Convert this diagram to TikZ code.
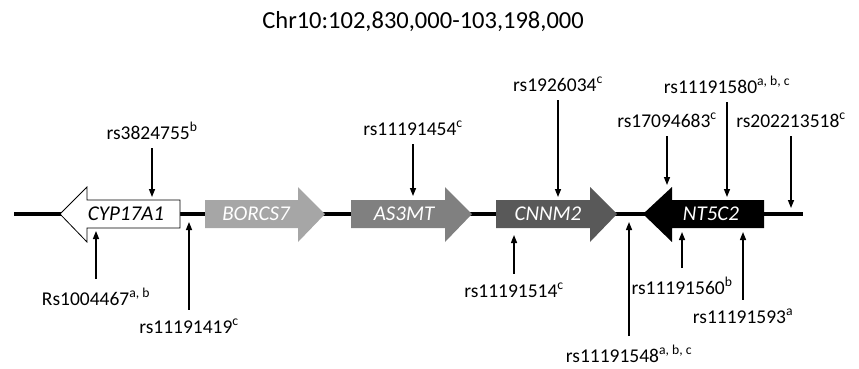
\documentclass[tikz,border=0pt]{standalone}
\usepackage{fontspec}
\setmainfont{Carlito}
\usetikzlibrary{arrows.meta, positioning}
\usepackage{xcolor}
\definecolor{borcsgray}{HTML}{A6A6A6}
\definecolor{asgray}{HTML}{808080}
\definecolor{cnnmgray}{HTML}{595959}

\begin{document}
\begin{tikzpicture}[
    x=1pt, y=-1pt,
    snp/.style={-{Triangle[length=8pt, width=6pt]}, line width=1.4pt},
    snp label/.style={font=\fontsize{19.5}{22}\selectfont, anchor=base, inner sep=0pt, outer ysep=9pt},
    gene label/.style={font=\fontsize{21}{24}\selectfont\itshape, text=white}
]
    \path[use as bounding box] (0,0) rectangle (859,368);

    % Title
    \node[font=\fontsize{24.5}{28}\selectfont, anchor=base] (title) at (423,28) {Chr10:102,830,000-103,198,000};

    % Chromosome
    \coordinate (chrL) at (14,214);
    \coordinate (chrR) at (803,214);
    \draw[line width=4pt] (chrL) -- (chrR);

    % Genes
    \draw[line width=0.8pt, fill=white] (180,200) -- (87,200) -- (87,187) -- (60,214) -- (87,242) -- (87,228) -- (180,228) -- cycle;
    \fill[borcsgray] (205,200) -- (298,200) -- (298,187) -- (325,214) -- (298,242) -- (298,228) -- (205,228) -- cycle;
    \fill[asgray] (351,200) -- (445,200) -- (445,187) -- (472,214) -- (445,242) -- (445,228) -- (351,228) -- cycle;
    \fill[cnnmgray] (496,200) -- (590,200) -- (590,187) -- (617,214) -- (590,242) -- (590,228) -- (496,228) -- cycle;
    \fill[black] (764,200) -- (672,200) -- (672,187) -- (643,214) -- (672,242) -- (672,228) -- (764,228) -- cycle;

    \node[gene label, text=black] (cyp) at (126,214) {CYP17A1};
    \node[gene label] (borcs) at (256,214) {BORCS7};
    \node[gene label] (as3mt) at (404,214) {AS3MT};
    \node[gene label] (cnnm) at (548,214) {CNNM2};
    \node[gene label] (nt5c) at (711,214) {NT5C2};

    % SNP positions
    \coordinate (t3824755) at (152,197);
    \coordinate (t11191454) at (413,196);
    \coordinate (t1926034) at (558,197);
    \coordinate (t17094683) at (667,185);
    \coordinate (t11191580) at (727,197);
    \coordinate (t202213518) at (791,208);
    \coordinate (t1004467) at (96,231);
    \coordinate (t11191419) at (189,222);
    \coordinate (t11191514) at (514,235);
    \coordinate (t11191548) at (629,222);
    \coordinate (t11191560) at (682,232);
    \coordinate (t11191593) at (743,232);

    % SNP labels
    \node[snp label] (l3824755) at (152,139) {rs3824755\textsuperscript{b}};
    \node[snp label] (l11191454) at (413,135) {rs11191454\textsuperscript{c}};
    \node[snp label] (l1926034) at (558,91) {rs1926034\textsuperscript{c}};
    \node[snp label] (l17094683) at (667,127) {rs17094683\textsuperscript{c}};
    \node[snp label] (l11191580) at (727,93) {rs11191580\textsuperscript{a, b, c}};
    \node[snp label] (l202213518) at (791,127) {rs202213518\textsuperscript{c}};
    \node[snp label] (l1004467) at (96,305) {Rs1004467\textsuperscript{a, b}};
    \node[snp label] (l11191419) at (189,333) {rs11191419\textsuperscript{c}};
    \node[snp label] (l11191514) at (514,297) {rs11191514\textsuperscript{c}};
    \node[snp label] (l11191548) at (629,362) {rs11191548\textsuperscript{a, b, c}};
    \node[snp label] (l11191560) at (682,294) {rs11191560\textsuperscript{b}};
    \node[snp label] (l11191593) at (743,323) {rs11191593\textsuperscript{a}};

    % Arrows
    \foreach \s in {3824755, 11191454, 1926034, 17094683, 11191580, 202213518,
                    1004467, 11191419, 11191514, 11191548, 11191560, 11191593}
        \draw[snp] (l\s) -- (t\s);
\end{tikzpicture}
\end{document}
